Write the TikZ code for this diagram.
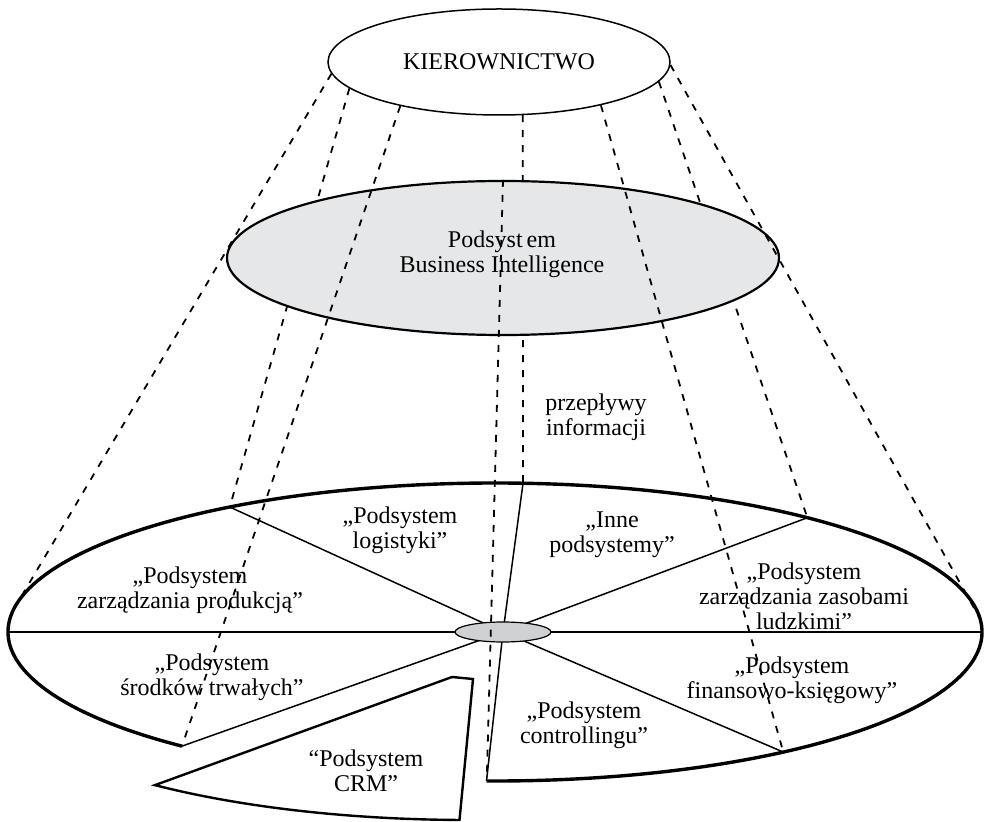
\documentclass[tikz,border=0pt]{standalone}
\usepackage{fontspec}
\setmainfont{Liberation Serif}
\usetikzlibrary{shapes.geometric,calc}
\definecolor{bigray}{HTML}{E6E7E8}
\definecolor{hubgray}{HTML}{D0D1D3}
\begin{document}
\begin{tikzpicture}[x=0.5pt,y=-0.5pt,
    flow/.style={dash pattern=on 3.5pt off 4pt, line width=0.9pt},
    rimline/.style={line width=1.7pt},
    spoke/.style={line width=0.75pt},
    lbl/.style={align=center, inner sep=0pt, font=\fontsize{12}{12.6}\selectfont}]
    \useasboundingbox (0,0) rectangle (984,822);

    % Kierownictwo
    \node[ellipse, draw, line width=0.75pt, inner sep=0pt, minimum width=171pt,
          minimum height=53pt, font=\fontsize{12}{12.6}\selectfont] (kier) at (499,62) {KIEROWNICTWO};

    % Punkty na obwodzie kola podsystemow
    \coordinate (mid) at (495,632);
    \foreach \n/\t in {pA/192, pTL/237, pT/273.3, pTR/309.9, pR/0, pG/355, pBR/53.7, pB/91, pBL/130, pL/180}
        \coordinate (\n) at ($(mid)+(\t:487 and 149)$);

    % Przeplywy pod podsystemem BI
    \draw[flow] (kier.190) -- (pTL);
    \draw[flow] (kier.294) -- (pT);
    \draw[flow] (kier.353) -- (pTR);

    % Podsystem BI
    \node[ellipse, draw, fill=bigray, line width=1.1pt, minimum width=276pt,
          minimum height=77pt] (bi) at (503,258) {};
    \node[lbl] (bitxt) at (502,254) {Podsyst\kern2pt em\\Business Intelligence};

    % Przeplywy nad podsystemem BI
    \draw[flow] (kier.184) -- (pA);
    \draw[flow] (kier.204) -- (pBL);
    \draw[flow] (kier.337) -- (pBR);
    \draw[flow] (kier.359) -- (pG);

    % Kolo podsystemow
    \draw[rimline] (pBL) arc[start angle=130, end angle=451, x radius=487, y radius=149];
    \coordinate (hubc) at (503,632);
    \foreach \p in {pL, pTL, pT, pTR, pR, pBR, pB, pBL}
        \draw[spoke] (hubc) -- (\p);

    % Wysuniety wycinek CRM
    \coordinate (crmc) at (468,671);
    \coordinate (crmA) at (452,677);
    \coordinate (crmB) at (473,679);
    \coordinate (crmT) at ($(crmc)+(130:487 and 149)$);
    \draw[line width=1.2pt] (crmA) -- (crmT)
        arc[start angle=130, end angle=91, x radius=487, y radius=149] -- (crmB) -- cycle;

    % Srodek kola
    \node[ellipse, draw, fill=hubgray, line width=0.6pt, inner sep=0pt,
          minimum width=48pt, minimum height=10pt] (hub) at (503,632) {};
    \coordinate (dEnd) at (487,772);
    \draw[flow] (bi.north) -- (dEnd);

    % Opisy
    \node[lbl] (flowtxt) at (596,417) {przepływy\\informacji};
    \node[lbl] (prod) at (190,590) {„Podsystem\\zarządzania produkcją”};
    \node[lbl] (logi) at (400,530) {„Podsystem\\logistyki”};
    \node[lbl] (inne) at (612,535) {„Inne\\podsystemy”};
    \node[lbl] (kadry) at (804,596) {„Podsystem\\zarządzania zasobami\\ludzkimi”};
    \node[lbl] (trwale) at (212,677) {„Podsystem\\środków trwałych”};
    \node[lbl] (crm) at (366,771) {“Podsystem\\CRM”};
    \node[lbl] (contr) at (584,725) {„Podsystem\\controllingu”};
    \node[lbl] (fin) at (792,680) {„Podsystem\\finansowo-księgowy”};
\end{tikzpicture}
\end{document}
